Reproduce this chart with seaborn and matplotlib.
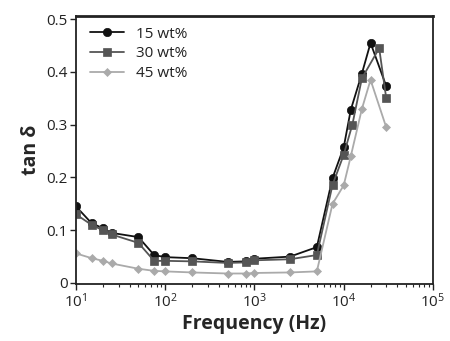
import numpy as np
import matplotlib
matplotlib.use("Agg")
import matplotlib.pyplot as plt
import matplotlib.ticker as mticker
import pandas as pd
import seaborn as sns

# frequencies (Hz) and tan delta per loading
freq_15 = [10, 15, 20, 25, 50, 75, 100, 200, 500, 800, 1000, 2500, 5000,
           7500, 10000, 12000, 16000, 20000, 30000]
tan_15 = [0.145, 0.113, 0.104, 0.095, 0.087, 0.053, 0.049, 0.047, 0.040, 0.041,
          0.046, 0.050, 0.068, 0.199, 0.257, 0.328, 0.397, 0.455, 0.373]

freq_30 = [10, 15, 20, 25, 50, 75, 100, 200, 500, 800, 1000, 2500, 5000,
           7500, 10000, 12500, 16000, 25000, 30000]
tan_30 = [0.130, 0.110, 0.100, 0.092, 0.076, 0.042, 0.042, 0.041, 0.038, 0.039,
          0.043, 0.045, 0.053, 0.186, 0.243, 0.300, 0.388, 0.445, 0.350]

freq_45 = [10, 15, 20, 25, 50, 75, 100, 200, 500, 800, 1000, 2500, 5000,
           7500, 10000, 12000, 16000, 20000, 30000]
tan_45 = [0.056, 0.047, 0.042, 0.037, 0.027, 0.023, 0.022, 0.020, 0.018, 0.018,
          0.019, 0.020, 0.022, 0.150, 0.185, 0.240, 0.330, 0.385, 0.295]

labels = ["15 wt%", "30 wt%", "45 wt%"]

df = pd.concat([
    pd.DataFrame({"freq": freq_15, "tan": tan_15, "sample": labels[0]}),
    pd.DataFrame({"freq": freq_30, "tan": tan_30, "sample": labels[1]}),
    pd.DataFrame({"freq": freq_45, "tan": tan_45, "sample": labels[2]}),
])

sns.set_style("ticks")
plt.rcParams["font.family"] = ["Open Sans", "DejaVu Sans"]
plt.rcParams["mathtext.fontset"] = "custom"
plt.rcParams["mathtext.rm"] = "Open Sans"

fig = plt.figure(figsize=(4.5, 3.41), dpi=100)
ax = fig.add_axes([0.169, 0.167, 0.793, 0.786])

palette = {labels[0]: "#111111", labels[1]: "#555555", labels[2]: "#aaaaaa"}
markers = {labels[0]: "o", labels[1]: "s", labels[2]: "D"}
sizes = {labels[0]: 6, labels[1]: 6, labels[2]: 4}

for lab in labels:
    sub = df[df["sample"] == lab]
    sns.lineplot(data=sub, x="freq", y="tan", ax=ax, color=palette[lab],
                 marker=markers[lab], markersize=sizes[lab], markeredgewidth=0.5,
                 markeredgecolor=palette[lab], linewidth=1.3, label=lab,
                 estimator=None, sort=False)

ax.set_xscale("log")
ax.set_xlim(10, 1e5)
ax.set_ylim(-0.002, 0.506)
ax.set_yticks([0, 0.1, 0.2, 0.3, 0.4, 0.5])
ax.set_yticklabels(["0", "0.1", "0.2", "0.3", "0.4", "0.5"])
ax.xaxis.set_minor_locator(mticker.LogLocator(base=10, subs=np.arange(2, 10)))
ax.xaxis.set_minor_formatter(mticker.NullFormatter())

ax.tick_params(axis="both", which="major", direction="out", length=4, width=1,
               labelsize=11, colors="#222222", pad=2)
ax.tick_params(axis="x", which="minor", direction="out", length=2.5, width=0.8)

for side in ["left", "bottom", "right"]:
    ax.spines[side].set_linewidth(1.3)
    ax.spines[side].set_color("#222222")
ax.spines["top"].set_linewidth(2)
ax.spines["top"].set_color("#222222")

ax.set_xlabel("Frequency (Hz)", fontsize=14, fontweight="bold", labelpad=2)
ax.set_ylabel("tan δ", fontsize=14, fontweight="bold", labelpad=4)

leg = ax.legend(loc="upper left", frameon=False, fontsize=11, handlelength=2.2,
                handletextpad=0.8, labelspacing=0.3, borderaxespad=0.3,
                bbox_to_anchor=(0.01, 1.0))
for t in leg.get_texts():
    t.set_color("#222222")

fig.savefig("out.png", dpi=100)
